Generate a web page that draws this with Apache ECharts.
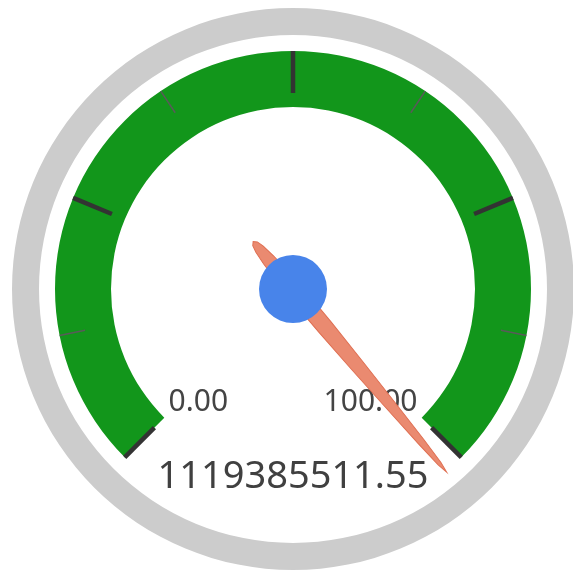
<!DOCTYPE html>
<html>
<head>
<meta charset="utf-8">
<title>Gauge</title>
<script src="https://cdn.jsdelivr.net/npm/echarts@6/dist/echarts.min.js"></script>
<style>
html, body { margin: 0; padding: 0; background: #fff; }
#container { width: 573px; height: 570px; }
</style>
</head>
<body>
<div id="container"></div>
<script>
// gauge data
const gaugeMin = 0;
const gaugeMax = 100;
const gaugeValue = [1119385511.55];
const labelValues = [0, 100];

// needle outline: [distance along needle, half width] in px
const needleProfile = [[-62, 0], [-59, 3], [-52, 4.8], [-38, 6.4], [-15, 7.6], [10, 8.2], [50, 8], [100, 6.8], [150, 5.2], [200, 3.4], [228, 1.8], [239, 0]];
const needleTilt = 5 * Math.PI / 180;

function buildNeedle() {
    const c = Math.cos(needleTilt), s = Math.sin(needleTilt);
    const right = needleProfile.map(([u, h]) => [h, -u]);
    const left = needleProfile.slice().reverse().map(([u, h]) => [-h, -u]);
    const pts = right.concat(left).map(([x, y]) => [x * c - y * s, x * s + y * c]);
    const xs = pts.map(p => p[0]), ys = pts.map(p => p[1]);
    const xmin = Math.min(...xs), xmax = Math.max(...xs);
    const ymin = Math.min(...ys), ymax = Math.max(...ys);
    const d = pts.map((p, i) => (i ? 'L' : 'M') + p[0].toFixed(2) + ' ' + p[1].toFixed(2)).join(' ') + ' Z';
    const w = xmax - xmin, len = ymax - ymin;
    return { icon: 'path://' + d, width: w, length: len, offset: [xmin + w / 2, ymax] };
}

const needle = buildNeedle();
const font = 'Noto Sans';
const center = [293, 289];
const hidden = { show: false };

let dom = document.getElementById('container');
let myChart = echarts.init(dom);

const option = {
    animation: false,
    series: [
        {
            // outer grey ring
            type: 'gauge',
            center: center,
            radius: 281,
            startAngle: 90,
            endAngle: -270,
            z: 1,
            axisLine: { lineStyle: { width: 27, color: [[1, '#cccccc']] } },
            splitLine: hidden, axisTick: hidden, axisLabel: hidden,
            pointer: hidden, title: hidden, detail: hidden,
            data: []
        },
        {
            // green band + minor ticks
            type: 'gauge',
            center: center,
            radius: 238,
            startAngle: 225,
            endAngle: -45,
            min: gaugeMin,
            max: gaugeMax,
            splitNumber: 8,
            z: 2,
            axisLine: { lineStyle: { width: 56, color: [[1, '#12961b']] } },
            splitLine: { length: 26, distance: -56, lineStyle: { color: '#5a5a5a', width: 1.5 } },
            axisTick: hidden, axisLabel: hidden,
            pointer: hidden, title: hidden, detail: hidden,
            data: []
        },
        {
            // major ticks, labels, needle, value
            type: 'gauge',
            center: center,
            radius: 238,
            startAngle: 225,
            endAngle: -45,
            min: gaugeMin,
            max: gaugeMax,
            splitNumber: 4,
            z: 3,
            axisLine: { lineStyle: { width: 56, color: [[1, 'rgba(0,0,0,0)']] } },
            splitLine: { length: 42, distance: -56, lineStyle: { color: '#333333', width: 4.5 } },
            axisTick: hidden,
            axisLabel: {
                distance: 76,
                fontSize: 30,
                lineHeight: 21,
                fontFamily: font,
                color: '#444444',
                formatter: v => labelValues.indexOf(v) >= 0 ? v.toFixed(2) + '\n' : ''
            },
            pointer: {
                icon: needle.icon,
                width: needle.width,
                length: needle.length,
                offsetCenter: needle.offset,
                itemStyle: { color: '#ea8a70', borderColor: '#df6f52', borderWidth: 1 }
            },
            anchor: { show: true, showAbove: true, size: 68, itemStyle: { color: '#4884ea' } },
            title: hidden,
            detail: {
                offsetCenter: [0, 188],
                fontSize: 38,
                fontWeight: 'normal',
                fontFamily: font,
                color: '#404040',
                valueAnimation: false,
                formatter: v => v.toFixed(2)
            },
            data: gaugeValue.map(v => ({ value: v }))
        }
    ]
};

myChart.setOption(option);
window.addEventListener('resize', () => myChart.resize());
</script>
</body>
</html>
